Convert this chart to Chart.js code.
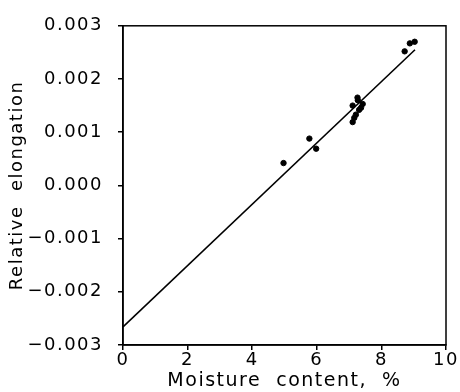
<!DOCTYPE html>
<html>
<head>
<meta charset="utf-8">
<script src="https://cdn.jsdelivr.net/npm/chart.js@4"></script>
<style>
  html, body { margin: 0; padding: 0; background: #fff; }
  #wrap { width: 460px; height: 392px; }
</style>
</head>
<body>
<div id="wrap"><canvas id="chart"></canvas></div>
<script>
// measured points: moisture content (%) vs relative elongation
const moisture = [4.97, 5.77, 5.98, 7.11, 7.16, 7.21, 7.26, 7.31, 7.37, 7.42, 7.11, 7.27, 8.72, 8.88, 9.03];
const elongation = [0.00042, 0.00088, 0.00069, 0.00119, 0.00127, 0.00133, 0.00165, 0.00142, 0.00146, 0.00153, 0.00150, 0.00160, 0.00252, 0.00267, 0.00270];

// fitted line end points
const fitX = [0, 9.04];
const fitY = [-0.00266, 0.00255];

const xTicks = [0, 2, 4, 6, 8, 10];
const yTicks = [-0.003, -0.002, -0.001, 0, 0.001, 0.002, 0.003];

const FONT = 'DejaVu Sans';

const pts = moisture.map((m, i) => ({x: m, y: elongation[i]}));
const fit = fitX.map((x, i) => ({x: x, y: fitY[i]}));

// old plotter lettering is spaced out a bit
const spacing = {
    id: 'spacing',
    beforeDraw(chart) { chart.ctx.letterSpacing = '1.5px'; }
};

// box around the plot area (top and right sides)
const frame = {
    id: 'frame',
    afterDraw(chart) {
        const a = chart.chartArea;
        const ctx = chart.ctx;
        ctx.save();
        ctx.strokeStyle = '#000';
        ctx.lineWidth = 1.5;
        ctx.strokeRect(a.left, a.top, a.right - a.left, a.bottom - a.top);
        ctx.restore();
    }
};

new Chart(document.getElementById('chart'), {
    type: 'scatter',
    data: {
        datasets: [{
            data: pts,
            backgroundColor: '#000',
            borderColor: '#000',
            pointRadius: 2.7,
            pointHoverRadius: 2.7
        }, {
            data: fit,
            showLine: true,
            borderColor: '#000',
            borderWidth: 1.6,
            pointRadius: 0
        }]
    },
    options: {
        responsive: true,
        maintainAspectRatio: false,
        animation: false,
        events: [],
        layout: {padding: {top: 19, right: 14, left: 0, bottom: 0}},
        plugins: {legend: {display: false}, tooltip: {enabled: false}},
        scales: {
            x: {
                type: 'linear',
                min: 0,
                max: 10,
                afterBuildTicks: s => { s.ticks = xTicks.map(v => ({value: v})); },
                afterFit: s => { s.height = 47; },
                grid: {drawOnChartArea: false, tickLength: 5, color: '#000', lineWidth: 1.5},
                border: {color: '#000', width: 1.5},
                ticks: {color: '#000', padding: 0, font: {family: FONT, size: 18}, maxRotation: 0},
                title: {display: true, text: 'Moisture  content,  %', color: '#000',
                        font: {family: FONT, size: 19}, padding: {top: 0, bottom: 0}}
            },
            y: {
                type: 'linear',
                min: -0.003,
                max: 0.003,
                afterBuildTicks: s => { s.ticks = yTicks.map(v => ({value: v})); },
                afterFit: s => { s.width = 123; },
                grid: {drawOnChartArea: false, tickLength: 5, color: '#000', lineWidth: 1.5},
                border: {color: '#000', width: 1.5},
                ticks: {
                    color: '#000', padding: 15, font: {family: FONT, size: 18},
                    callback: v => (v < 0 ? '\u2212' : '') + Math.abs(v).toFixed(3)
                },
                title: {display: true, text: 'Relative  elongation', color: '#000',
                        font: {family: FONT, size: 18}, padding: {top: 7, bottom: 0}}
            }
        }
    },
    plugins: [spacing, frame]
});
</script>
</body>
</html>
